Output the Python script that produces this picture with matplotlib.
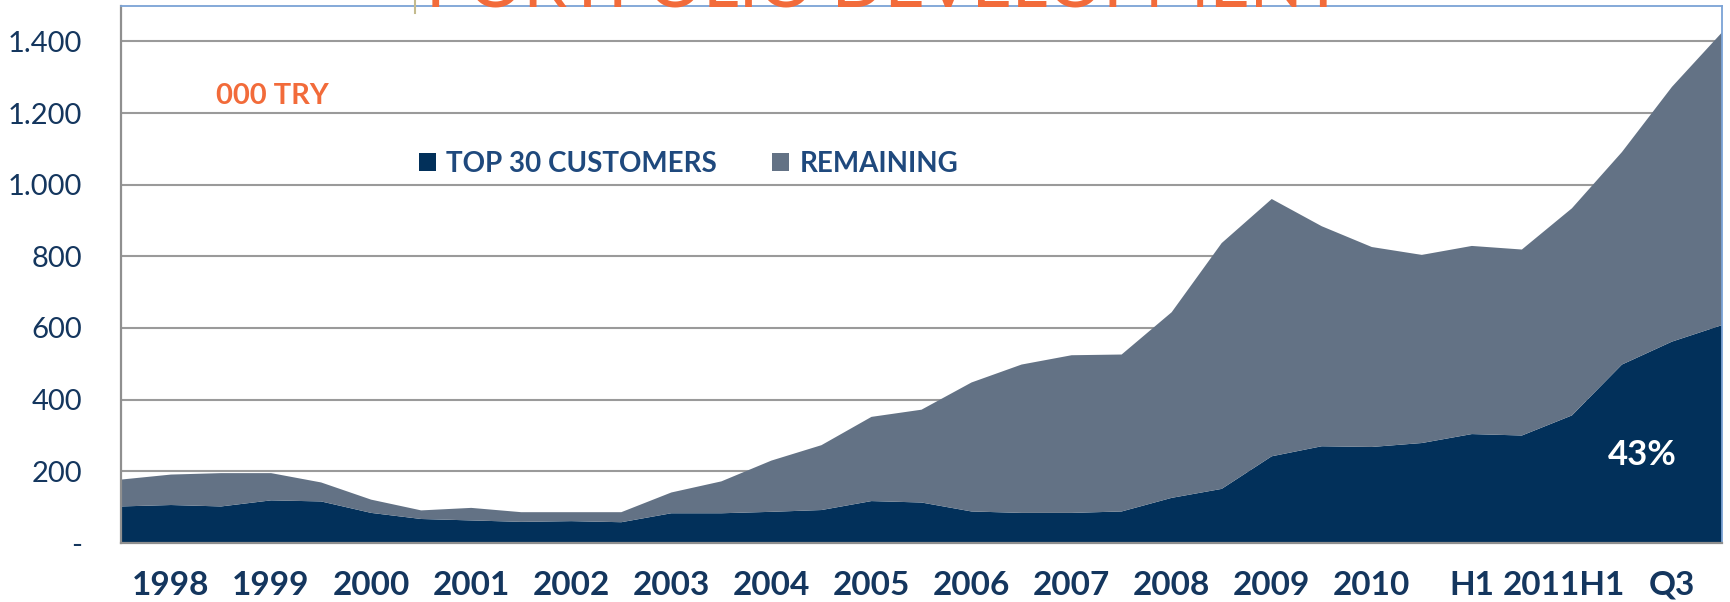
import numpy as np
import matplotlib
matplotlib.use("Agg")
import matplotlib.pyplot as plt
import matplotlib.transforms as mtransforms
from matplotlib.patches import Patch

# half-year points, 1998 .. 2011 Q3 (values in 000 TRY)
top30 = [102, 106, 102, 119, 116, 84, 67, 63, 59, 61, 58, 83, 83, 87, 92, 117,
         113, 88, 84, 84, 88, 126, 151, 242, 270, 268, 279, 304, 300, 356, 498,
         562, 608]
total = [177, 191, 195, 195, 169, 121, 91, 98, 86, 86, 86, 141, 172, 230, 273,
         352, 372, 448, 498, 524, 526, 644, 837, 960, 884, 826, 804, 829, 819,
         934, 1091, 1273, 1425]
remaining = [t - b for t, b in zip(total, top30)]

xlabels = ['1998', '1999', '2000', '2001', '2002', '2003', '2004', '2005',
           '2006', '2007', '2008', '2009', '2010', 'H1', '2011H1', 'Q3']
yticks = [0, 200, 400, 600, 800, 1000, 1200, 1400]
ylabels = ['-', '200', '400', '600', '800', '1.000', '1.200', '1.400']

navy = '#02305A'
slate = '#637285'
textcol = '#14365E'
orange = '#F26B3A'

W, H = 1731, 602
fig = plt.figure(figsize=(W / 100, H / 100), dpi=100)
ax = fig.add_axes([121 / W, 1 - 543 / H, (1722 - 121) / W, (543 - 5.5) / H])

x = np.arange(len(top30))
ax.stackplot(x, top30, remaining, colors=[navy, slate], linewidth=0)
ax.set_xlim(0, len(top30) - 1)
ax.set_ylim(0, 1500)

ax.set_axisbelow(True)
ax.yaxis.grid(True, color='#9a9a9a', linewidth=1.5)
ax.set_yticks(yticks)
ax.set_yticklabels(ylabels, fontfamily='Lato', fontsize=21, color=textcol)
ax.set_xticks(x[1::2])
ax.set_xticklabels(xlabels, fontfamily='Lato', fontweight='bold', fontsize=24,
                   color=textcol)
ax.tick_params(axis='y', length=0, pad=28)
ax.tick_params(axis='x', length=0, pad=20)

# the "2011H1" label sits a little left of its tick in the original
lab = ax.get_xticklabels()[14]
lab.set_transform(lab.get_transform() +
                  mtransforms.ScaledTranslation(-8 / 100, 0, fig.dpi_scale_trans))

for s in ['left', 'bottom']:
    ax.spines[s].set_color('#8f8f8f')
    ax.spines[s].set_linewidth(1.6)
for s in ['top', 'right']:
    ax.spines[s].set_color('#7BA3D6')
    ax.spines[s].set_linewidth(1.3)

ax.text(30.4, 245, '43%', color='white', fontfamily='Lato', fontweight='bold',
        fontsize=25, ha='center', va='center')

fig.text(216 / W, 1 - 96 / H, '000 TRY', color=orange, fontfamily='Lato',
         fontweight='bold', fontsize=21, ha='left', va='center')

# title, mostly cut off by the top edge
fig.text(885 / W, 1 - 8 / H, 'PORTFOLIO DEVELOPMENT', color=orange,
         fontfamily='Lato', fontsize=50, ha='center', va='baseline')
fig.add_artist(plt.Line2D([415 / W, 415 / W], [1 - 13 / H, 1.0],
                          color='#C4BB8E', linewidth=1.5))

handles = [Patch(facecolor=navy, label='TOP 30 CUSTOMERS'),
           Patch(facecolor=slate, label='REMAINING')]
leg = fig.legend(handles=handles, loc='center left',
                 bbox_to_anchor=(405 / W, 1 - 164 / H), ncol=2, frameon=False,
                 borderpad=0, handlelength=0.6, handleheight=0.6,
                 handletextpad=0.38, columnspacing=2.0,
                 prop={'family': 'Lato', 'weight': 'bold', 'size': 20})
for t in leg.get_texts():
    t.set_color('#1F497D')

fig.savefig('out.png', dpi=100)
